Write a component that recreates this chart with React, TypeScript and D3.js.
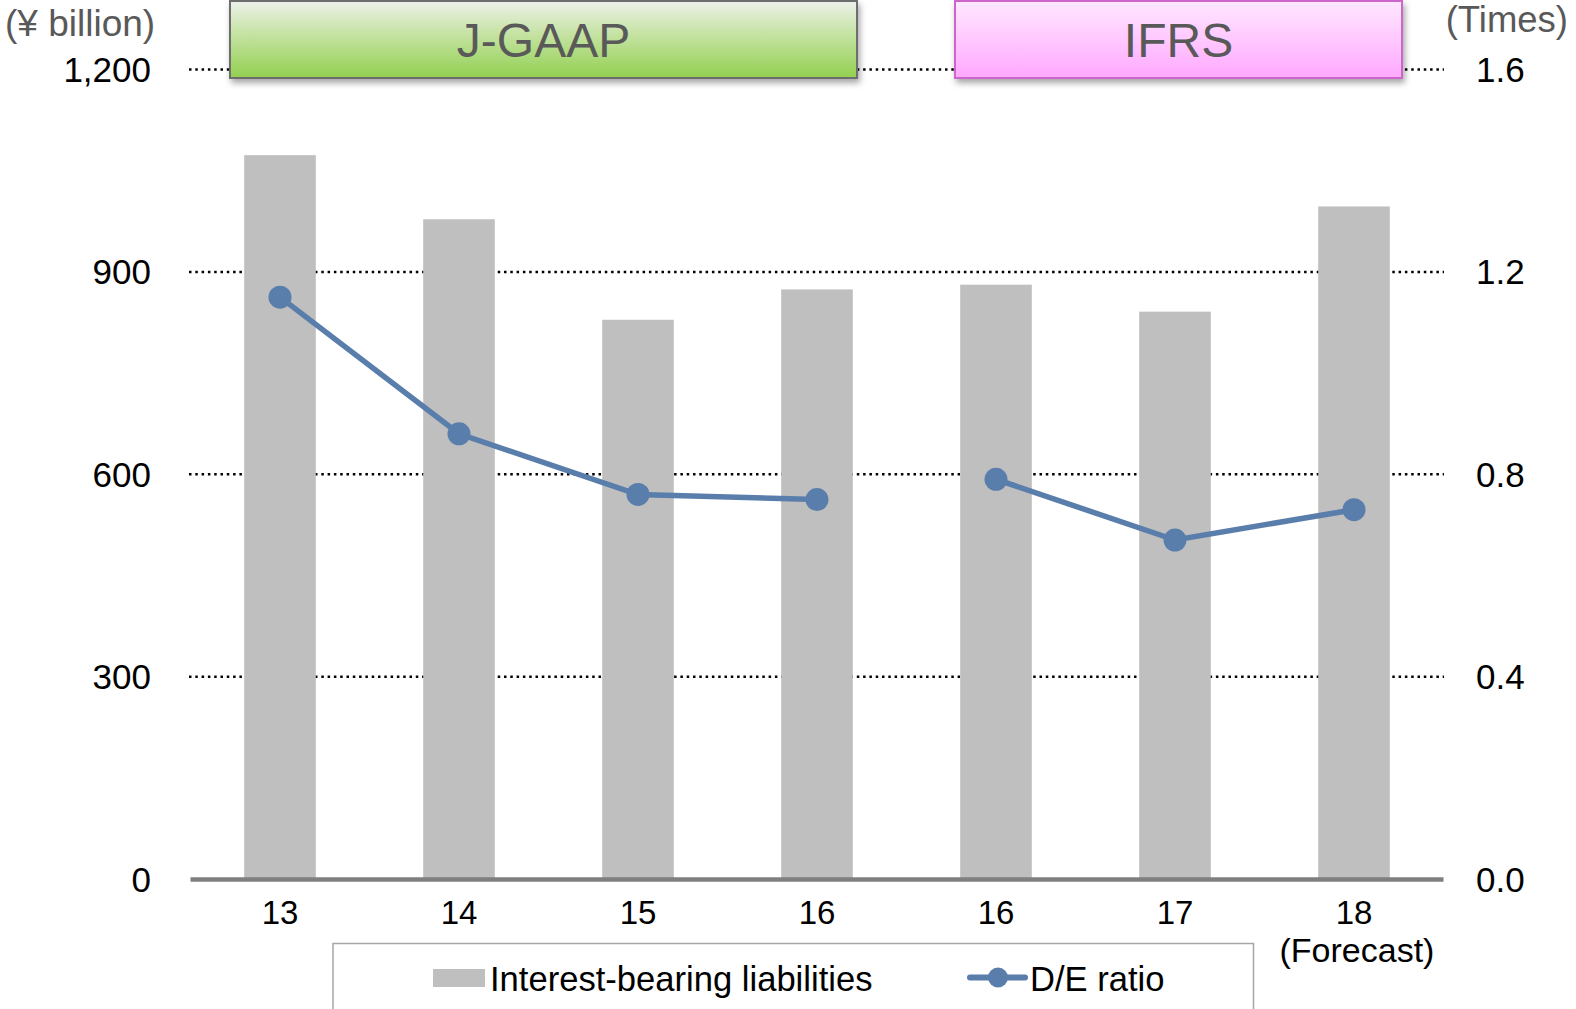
import React from "react";
import * as d3 from "d3";

// Fiscal years (two J-GAAP periods then IFRS); 16 appears under both standards
const categories = ["13", "14", "15", "16", "16i", "17", "18"];
const categoryLabels = ["13", "14", "15", "16", "16", "17", "18"];
const categoryNotes = ["", "", "", "", "", "", "(Forecast)"];
// Interest-bearing liabilities (¥ billion)
const liabilities = [1073, 978, 829, 874, 881, 841, 997];
// Debt/equity ratio (times); line is split between accounting standards
const deRatio = [1.15, 0.88, 0.76, 0.75, 0.79, 0.67, 0.73];
const deSegments = [
  [0, 1, 2, 3],
  [4, 5, 6],
];
const leftTicks = [0, 300, 600, 900, 1200];
const rightTicks = [0, 0.4, 0.8, 1.2, 1.6];

const W = 1576;
const H = 1009;
const FONT = "'Liberation Sans', Arial, Helvetica, sans-serif";
const BAR = "#bfbfbf";
const LINE = "#5a7eab";

export default function App() {
  const x = d3
    .scaleBand<string>()
    .domain(categories)
    .range([190.5, 1443.5])
    .paddingInner(0.6)
    .paddingOuter(0.3);
  const yL = d3.scaleLinear().domain([0, 1200]).range([879, 69.5]);
  const yR = d3.scaleLinear().domain([0, 1.6]).range([879, 69.5]);
  const cx = (i: number) => (x(categories[i]) as number) + x.bandwidth() / 2;

  const line = d3
    .line<number>()
    .x((i) => cx(i))
    .y((i) => yR(deRatio[i]));

  return (
    <div style={{ position: "absolute", left: 0, top: 0 }}>
      <svg width={W} height={H} style={{ display: "block", background: "#fff" }} fontFamily={FONT}>
        <defs>
          <linearGradient id="gGreen" x1="0" y1="0" x2="0" y2="1">
            <stop offset="0" stopColor="#eef1ea" />
            <stop offset="0.45" stopColor="#c3e2a0" />
            <stop offset="1" stopColor="#92d050" />
          </linearGradient>
          <linearGradient id="gPink" x1="0" y1="0" x2="0" y2="1">
            <stop offset="0" stopColor="#ffe8ff" />
            <stop offset="0.5" stopColor="#ffc8ff" />
            <stop offset="1" stopColor="#ffa8ff" />
          </linearGradient>
          <filter id="shadow" x="-5%" y="-20%" width="110%" height="160%">
            <feDropShadow dx="2" dy="4" stdDeviation="3" floodColor="#000" floodOpacity="0.35" />
          </filter>
        </defs>

        {/* dotted gridlines */}
        {leftTicks
          .filter((t) => t > 0)
          .map((t) => (
            <line
              key={t}
              x1={189}
              x2={1444}
              y1={yL(t)}
              y2={yL(t)}
              stroke="#000"
              strokeWidth={2.5}
              strokeDasharray="2.5 3.8"
            />
          ))}

        {/* bars */}
        {liabilities.map((v, i) => (
          <rect
            key={i}
            x={x(categories[i])}
            y={yL(v)}
            width={x.bandwidth()}
            height={yL(0) - yL(v)}
            fill={BAR}
          />
        ))}

        {/* baseline */}
        <line x1={190.5} x2={1443.5} y1={879.5} y2={879.5} stroke="#7f7f7f" strokeWidth={4.5} />

        {/* D/E ratio line */}
        {deSegments.map((seg, k) => (
          <path key={k} d={line(seg) as string} fill="none" stroke={LINE} strokeWidth={5.5} />
        ))}
        {deRatio.map((v, i) => (
          <circle key={i} cx={cx(i)} cy={yR(v)} r={11.5} fill={LINE} />
        ))}

        {/* left axis labels */}
        {leftTicks.map((t) => (
          <text key={t} x={151} y={yL(t) + 12.5} textAnchor="end" fontSize={35} fill="#000">
            {d3.format(",")(t)}
          </text>
        ))}
        {/* right axis labels */}
        {rightTicks.map((t) => (
          <text key={t} x={1476} y={yR(t) + 12.5} textAnchor="start" fontSize={35} fill="#000">
            {d3.format(".1f")(t)}
          </text>
        ))}

        {/* category labels */}
        {categories.map((c, i) => (
          <g key={c}>
            <text x={cx(i)} y={924} textAnchor="middle" fontSize={33} fill="#000">
              {categoryLabels[i]}
            </text>
            {categoryNotes[i] && (
              <text x={cx(i) + 3} y={962} textAnchor="middle" fontSize={34} fill="#000">
                {categoryNotes[i]}
              </text>
            )}
          </g>
        ))}

        {/* unit labels */}
        <text x={5} y={36} fontSize={37} fill="#595959">
          (¥ billion)
        </text>
        <text x={1568} y={32} textAnchor="end" fontSize={36.5} fill="#595959">
          (Times)
        </text>

        {/* accounting standard headers */}
        <g filter="url(#shadow)">
          <rect x={230} y={1} width={627} height={77} fill="url(#gGreen)" stroke="#6e6e6e" strokeWidth={2} />
        </g>
        <text x={543.5} y={57} textAnchor="middle" fontSize={48} fill="#595959">
          J-GAAP
        </text>
        <g filter="url(#shadow)">
          <rect x={955} y={1} width={447} height={77} fill="url(#gPink)" stroke="#cc66cc" strokeWidth={2} />
        </g>
        <text x={1178.5} y={57} textAnchor="middle" fontSize={48} fill="#595959">
          IFRS
        </text>

        {/* legend */}
        <path d="M333,1012 V943.5 H1253.5 V1012" fill="none" stroke="#a6a6a6" strokeWidth={1.5} />
        <rect x={433} y={969} width={52} height={18} fill={BAR} />
        <text x={490} y={990.5} fontSize={34.6} fill="#000">
          Interest-bearing liabilities
        </text>
        <line x1={970} x2={1025} y1={977.5} y2={977.5} stroke={LINE} strokeWidth={6} strokeLinecap="round" />
        <circle cx={998} cy={977.5} r={10} fill={LINE} />
        <text x={1030} y={990.5} fontSize={34.6} fill="#000">
          D/E ratio
        </text>
      </svg>
    </div>
  );
}
